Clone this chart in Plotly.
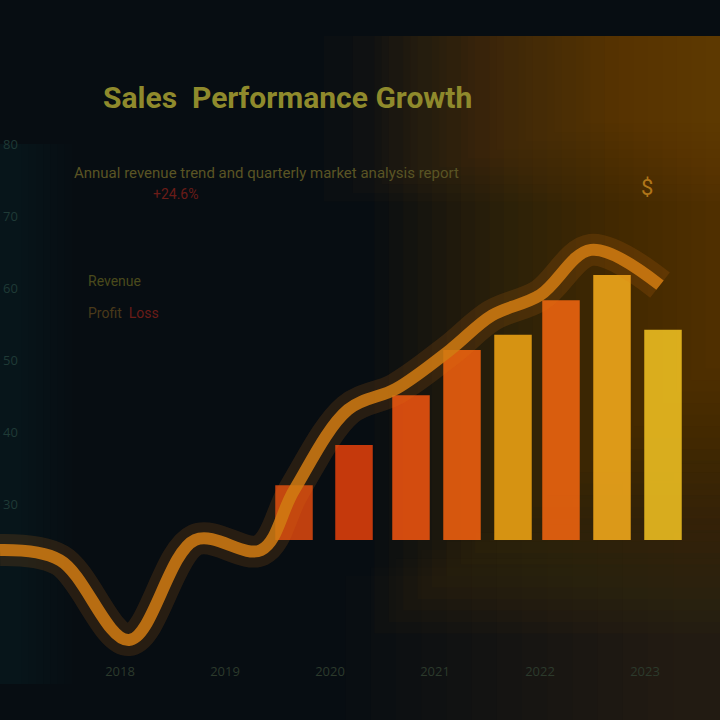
import plotly.graph_objects as go

# ---- data ----
line_x = [0, 2, 4.3, 6.5, 8.7, 9.8, 11.6, 13.2, 15.0, 16.4, 18.0, 19.7, 22.0]
line_y = [23.6, 22.2, 11.1, 25.0, 23.6, 31.9, 43.1, 46.0, 51.4, 56.2, 59.0, 65.3, 60.4]

bar_x = [9.8, 11.8, 13.7, 15.4, 17.1, 18.7, 20.4, 22.1]
bar_top = [32.6, 38.2, 45.1, 51.4, 53.5, 58.3, 61.8, 54.2]
bar_base = 25.0
bar_colors = ["#d9480f", "#e0400c", "#ee5410", "#f0600f", "#eea314", "#f06510", "#f3aa1c", "#efc022"]

ytick_vals = [30, 40, 50, 60, 70, 80]
ytick_text = ["30", "40", "50", "60", "70", "80"]
xtick_vals = [4, 7.5, 11, 14.5, 18, 21.5]
xtick_text = ["2018", "2019", "2020", "2021", "2022", "2023"]

fig = go.Figure()

# glow of the line
fig.add_trace(go.Scatter(x=line_x, y=line_y, mode="lines",
                         line=dict(color="rgba(230,120,20,0.15)", width=32, shape="spline"),
                         hoverinfo="skip", showlegend=False))

fig.add_trace(go.Bar(x=bar_x, y=[t - bar_base for t in bar_top], base=bar_base,
                     width=1.25, marker=dict(color=bar_colors, line=dict(width=0)),
                     opacity=0.88, showlegend=False))

fig.add_trace(go.Scatter(x=line_x, y=line_y, mode="lines",
                         line=dict(color="#d27c12", width=12, shape="spline"),
                         opacity=0.85, showlegend=False))

shapes = []
# warm glow on the right side (stacked translucent bands, fading downward)
for i in range(24):
    shapes.append(dict(type="rect", xref="paper", yref="paper",
                       x0=0.52 + i * 0.02, x1=1, y0=0.12 + i * 0.016, y1=0.95,
                       fillcolor="rgba(160,92,12,0.032)", line_width=0, layer="below"))
# dim brown lower right
for i in range(14):
    shapes.append(dict(type="rect", xref="paper", yref="paper",
                       x0=0.48 + i * 0.035, x1=1, y0=0.0, y1=0.2 + i * 0.012,
                       fillcolor="rgba(90,55,20,0.03)", line_width=0, layer="below"))
for i in range(10):
    shapes.append(dict(type="rect", xref="paper", yref="paper",
                       x0=0.45 + i * 0.04, x1=1, y0=0.72 + i * 0.012, y1=0.95,
                       fillcolor="rgba(140,90,15,0.035)", line_width=0, layer="below"))
# cool teal tint on the left
for i in range(8):
    shapes.append(dict(type="rect", xref="paper", yref="paper",
                       x0=0, x1=0.1 - i * 0.01, y0=0.05, y1=0.8,
                       fillcolor="rgba(25,50,50,0.035)", line_width=0, layer="below"))

annotations = [
    dict(text="<b>Sales  Performance Growth</b>", x=0.14, y=0.865, xref="paper", yref="paper",
         xanchor="left", yanchor="middle", showarrow=False,
         font=dict(size=30, color="#8f8a2c", family="Roboto")),
    dict(text="Annual revenue trend and quarterly market analysis report", x=0.1, y=0.775,
         xref="paper", yref="paper", xanchor="left", showarrow=False,
         font=dict(size=15, color="#5a5424", family="Roboto")),
    dict(text="+24.6%", x=0.21, y=0.745, xref="paper", yref="paper", xanchor="left",
         showarrow=False, font=dict(size=14, color="#6a1c18", family="Roboto")),
    dict(text="Revenue", x=0.12, y=0.61, xref="paper", yref="paper", xanchor="left",
         showarrow=False, font=dict(size=14, color="#4a4a1c", family="Roboto")),
    dict(text="Profit  <span style='color:#6a1c18'>Loss</span>", x=0.12, y=0.565,
         xref="paper", yref="paper", xanchor="left", showarrow=False,
         font=dict(size=14, color="#4a3a1a", family="Roboto")),
    dict(text="$", x=0.91, y=0.76, xref="paper", yref="paper", showarrow=False,
         font=dict(size=22, color="#b0761a", family="Roboto")),
]

fig.update_layout(
    width=720, height=720,
    margin=dict(l=0, r=0, t=0, b=0),
    paper_bgcolor="#070d12",
    plot_bgcolor="rgba(0,0,0,0)",
    shapes=shapes,
    annotations=annotations,
    xaxis=dict(range=[0, 24], showgrid=False, zeroline=False, tickvals=xtick_vals,
               ticktext=xtick_text, anchor="free", position=0.08,
               tickfont=dict(color="#2c3a2c", size=13), showline=False),
    yaxis=dict(range=[0, 100], showgrid=False, zeroline=False, tickvals=ytick_vals,
               ticktext=ytick_text, ticklabelposition="inside",
               tickfont=dict(color="#1f3a36", size=13)),
)

fig.write_html("out.html", config={"displayModeBar": False},
               post_script="document.body.style.margin='0';document.body.style.overflow='hidden';")
